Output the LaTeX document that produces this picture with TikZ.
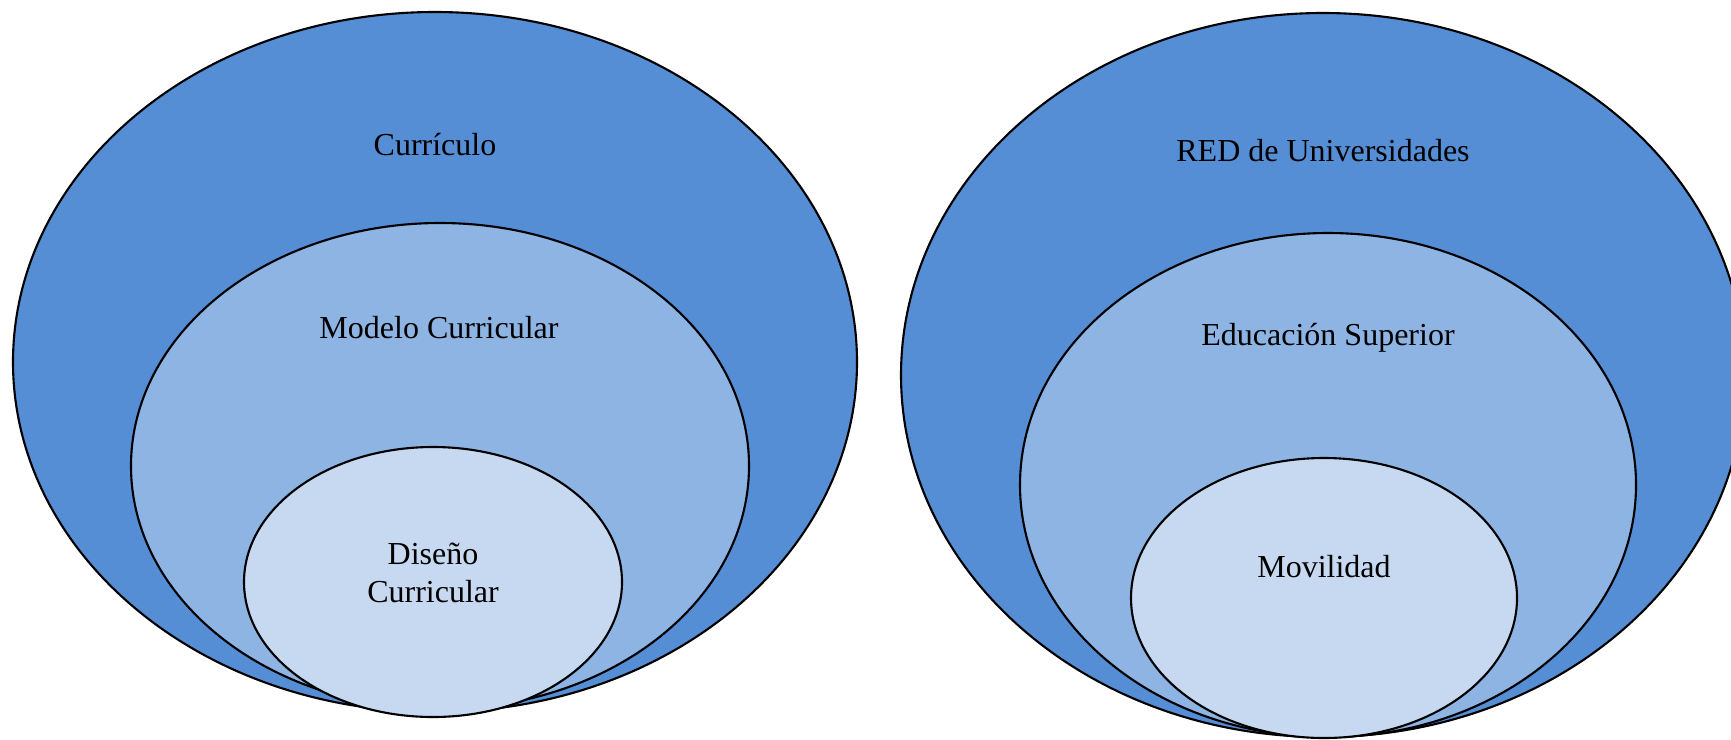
\documentclass[tikz,border=0pt]{standalone}
\usepackage{fontspec}
\setmainfont{Liberation Serif}
\definecolor{outerblue}{RGB}{85,142,213}
\definecolor{midblue}{RGB}{142,180,227}
\definecolor{innerblue}{RGB}{198,217,241}
\begin{document}
\begin{tikzpicture}[x=0.01cm,y=-0.01cm,every node/.style={font=\fontsize{9.1}{11}\selectfont,align=center},
  ring/.style={draw=black,line width=0.6pt}]
  \useasboundingbox (0,0) rectangle (1731,739);
  \clip (0,0) rectangle (1731,739);
  % left set
  \filldraw [ring,fill=outerblue] (435,362) ellipse (422 and 350);
  \filldraw [ring,fill=midblue] (440,466) ellipse (309 and 243);
  \filldraw [ring,fill=innerblue] (433,582) ellipse (189 and 135);
  \node (curriculo) at (435,145) {Currículo};
  \node (modelo) at (439,328) {Modelo Curricular};
  \node (diseno) at (433,573) {Diseño\\Curricular};
  % right set
  \filldraw [ring,fill=outerblue] (1323,375) ellipse (422 and 362);
  \filldraw [ring,fill=midblue] (1328,485) ellipse (308 and 252);
  \filldraw [ring,fill=innerblue] (1324,598) ellipse (193 and 140);
  \node (red) at (1323,151) {RED de Universidades};
  \node (superior) at (1328,338) {Educación Superior};
  \node (movilidad) at (1324,567) {Movilidad};
\end{tikzpicture}
\end{document}
